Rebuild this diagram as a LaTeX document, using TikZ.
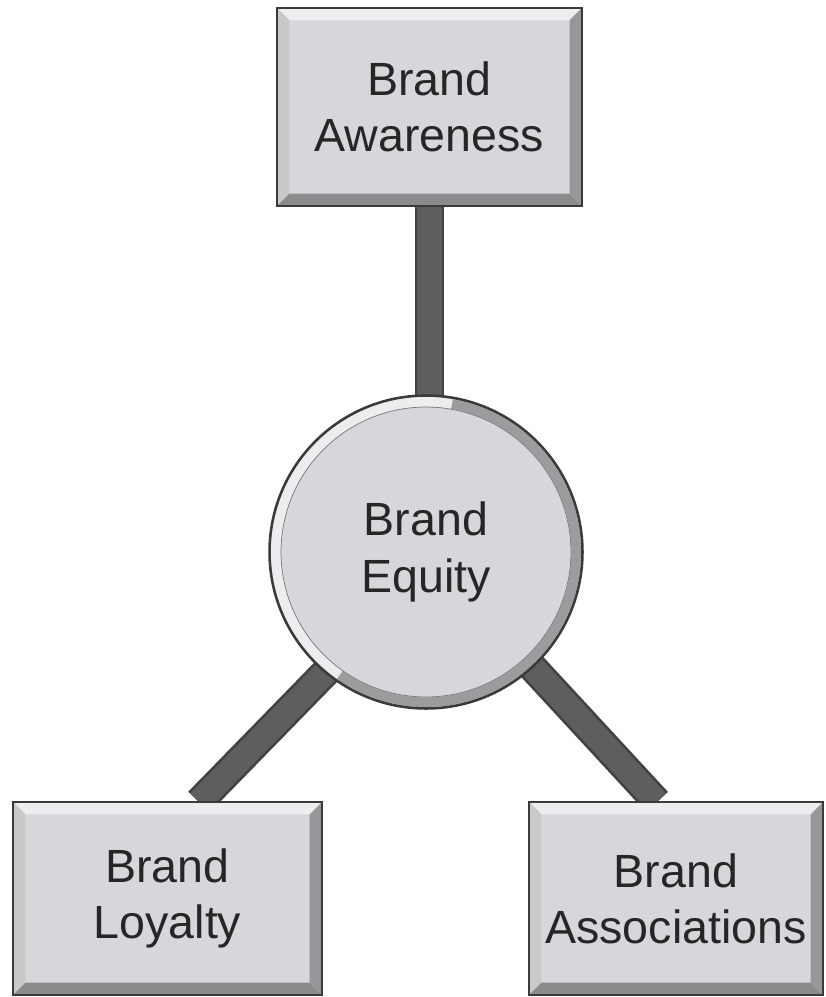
\documentclass[tikz,border=0pt]{standalone}
\usepackage{fontspec}
\setmainfont{Liberation Sans}
\usetikzlibrary{calc,backgrounds}
\definecolor{face}{HTML}{D5D7DA}
\definecolor{bevlight}{HTML}{ECEDEE}
\definecolor{bevdark}{HTML}{8A8B8D}
\definecolor{edge}{HTML}{3A3A3A}
\definecolor{barfill}{HTML}{5E5E5E}
\definecolor{ink}{HTML}{262626}
\tikzset{
  label text/.style={text=ink, font=\fontsize{26.5}{32}\selectfont, align=center},
  bevelbox/.style={label text, rectangle, inner sep=0pt, outer sep=0pt,
    fill=face, draw=edge, line width=0.9pt,
    path picture={
      \fill[bevlight] (path picture bounding box.north west)
        -- (path picture bounding box.north east)
        -- ($(path picture bounding box.north east)+(-7pt,-7pt)$)
        -- ($(path picture bounding box.north west)+(7pt,-7pt)$) -- cycle;
      \fill[bevlight!85!black] (path picture bounding box.north west)
        -- ($(path picture bounding box.north west)+(7pt,-7pt)$)
        -- ($(path picture bounding box.south west)+(7pt,7pt)$)
        -- (path picture bounding box.south west) -- cycle;
      \fill[bevdark] (path picture bounding box.south west)
        -- ($(path picture bounding box.south west)+(7pt,7pt)$)
        -- ($(path picture bounding box.south east)+(-7pt,7pt)$)
        -- (path picture bounding box.south east) -- cycle;
      \fill[bevdark!90!white] (path picture bounding box.north east)
        -- ($(path picture bounding box.north east)+(-7pt,-7pt)$)
        -- ($(path picture bounding box.south east)+(-7pt,7pt)$)
        -- (path picture bounding box.south east) -- cycle;
    }},
  hub/.style={label text, circle, inner sep=0pt, outer sep=0pt,
    minimum size=6.28cm, fill=face, draw=edge, line width=0.9pt},
  bar/.style={draw=barfill!70!black, line width=17pt},
  barcore/.style={draw=barfill, line width=14pt}
}
\begin{document}
\begin{tikzpicture}[x=0.02cm, y=-0.02cm]
  \useasboundingbox (0,0) rectangle (825,997);

  % the four nodes
  \node[bevelbox, minimum width=6.1cm, minimum height=3.96cm]
    (aware) at (429.5,107) {Brand\\Awareness};
  \node[hub] (equity) at (426,552) {Brand\\Equity};
  \node[bevelbox, minimum width=6.18cm, minimum height=3.86cm]
    (loyal) at (167.5,898.5) {Brand\\Loyalty};
  \node[bevelbox, minimum width=5.88cm, minimum height=3.86cm]
    (assoc) at (676,898.5) {Brand\\Associations};

  % two-tone rim of the hub
  \draw[bevlight, line width=5.5pt]
    ($(equity.center)+(80:85.5pt)$) arc[start angle=80, end angle=235, radius=85.5pt];
  \draw[bevdark!85!white, line width=5.5pt]
    ($(equity.center)+(235:85.5pt)$) arc[start angle=235, end angle=440, radius=85.5pt];
  \draw[edge, line width=0.9pt] (equity.center) circle[radius=88.8pt];
  \draw[edge!60!face, line width=0.4pt] (equity.center) circle[radius=82.5pt];

  % connecting bars, behind the nodes
  \begin{scope}[on background layer]
    \draw[bar] (aware.south) -- (aware.south |- equity.center);
    \draw[barcore] (aware.south) -- (aware.south |- equity.center);
    \draw[bar] ([xshift=0.34cm]equity.center) -- ([xshift=0.63cm]loyal.north);
    \draw[barcore] ([xshift=0.34cm]equity.center) -- ([xshift=0.63cm]loyal.north);
    \draw[bar] (equity.center) -- ([xshift=-0.38cm]assoc.north);
    \draw[barcore] (equity.center) -- ([xshift=-0.38cm]assoc.north);
  \end{scope}
\end{tikzpicture}
\end{document}
